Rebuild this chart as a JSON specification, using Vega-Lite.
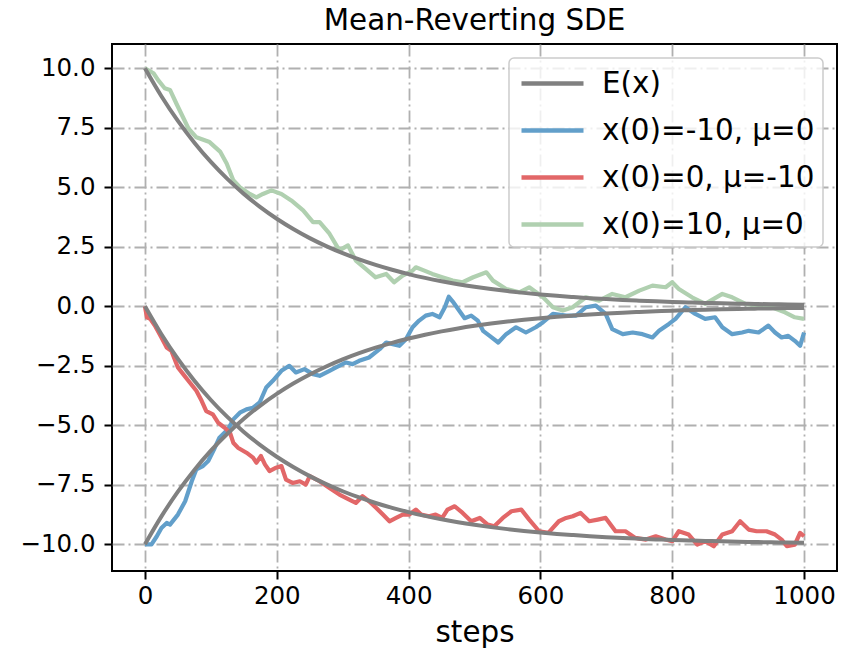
{
  "$schema": "https://vega.github.io/schema/vega-lite/v6.json",
  "width": 725,
  "height": 527,
  "autosize": {"type": "none"},
  "padding": {"left": 112, "top": 44, "right": 14, "bottom": 78},
  "background": "white",
  "config": {
    "font": "DejaVu Sans",
    "view": {"stroke": "black", "strokeWidth": 2},
    "axis": {
      "labelFontSize": 24.5,
      "labelColor": "black",
      "labelFont": "DejaVu Sans",
      "tickSize": 8,
      "tickWidth": 2,
      "tickColor": "black",
      "domain": false,
      "grid": true,
      "gridDash": [12, 4, 2, 4],
      "gridColor": "#b0b0b0",
      "gridWidth": 1.8,
      "labelFlush": false,
      "labelOverlap": false,
      "titleFontSize": 29.4,
      "titleFontWeight": "normal",
      "titleColor": "black",
      "titleFont": "DejaVu Sans"
    },
    "legend": {
      "orient": "top-right",
      "offset": 14,
      "padding": 8,
      "fillColor": "rgba(255,255,255,0.8)",
      "strokeColor": "#cccccc",
      "strokeWidth": 1.5,
      "cornerRadius": 5,
      "labelFontSize": 29.4,
      "labelFont": "DejaVu Sans",
      "labelColor": "black",
      "symbolType": "M-0.867,0H3.267",
      "symbolSize": 900,
      "symbolStrokeWidth": 4.5,
      "labelOffset": 50,
      "rowPadding": 15,
      "labelLimit": 400
    }
  },
  "title": {
    "text": "Mean-Reverting SDE",
    "fontSize": 29.4,
    "fontWeight": "normal",
    "font": "DejaVu Sans",
    "color": "black",
    "anchor": "middle",
    "frame": "group",
    "baseline": "top",
    "offset": 8
  },
  "datasets": {
    "expect": [
      {"t": 0, "up": 10, "lo": -10, "rd": 0},
      {"t": 25, "up": 8.825, "lo": -8.825, "rd": -1.175},
      {"t": 50, "up": 7.788, "lo": -7.788, "rd": -2.212},
      {"t": 75, "up": 6.873, "lo": -6.873, "rd": -3.127},
      {"t": 100, "up": 6.065, "lo": -6.065, "rd": -3.935},
      {"t": 125, "up": 5.353, "lo": -5.353, "rd": -4.647},
      {"t": 150, "up": 4.724, "lo": -4.724, "rd": -5.276},
      {"t": 175, "up": 4.169, "lo": -4.169, "rd": -5.831},
      {"t": 200, "up": 3.679, "lo": -3.679, "rd": -6.321},
      {"t": 225, "up": 3.247, "lo": -3.247, "rd": -6.753},
      {"t": 250, "up": 2.865, "lo": -2.865, "rd": -7.135},
      {"t": 275, "up": 2.528, "lo": -2.528, "rd": -7.472},
      {"t": 300, "up": 2.231, "lo": -2.231, "rd": -7.769},
      {"t": 325, "up": 1.969, "lo": -1.969, "rd": -8.031},
      {"t": 350, "up": 1.738, "lo": -1.738, "rd": -8.262},
      {"t": 375, "up": 1.534, "lo": -1.534, "rd": -8.466},
      {"t": 400, "up": 1.353, "lo": -1.353, "rd": -8.647},
      {"t": 425, "up": 1.194, "lo": -1.194, "rd": -8.806},
      {"t": 450, "up": 1.054, "lo": -1.054, "rd": -8.946},
      {"t": 475, "up": 0.93, "lo": -0.93, "rd": -9.07},
      {"t": 500, "up": 0.821, "lo": -0.821, "rd": -9.179},
      {"t": 525, "up": 0.724, "lo": -0.724, "rd": -9.276},
      {"t": 550, "up": 0.639, "lo": -0.639, "rd": -9.361},
      {"t": 575, "up": 0.564, "lo": -0.564, "rd": -9.436},
      {"t": 600, "up": 0.498, "lo": -0.498, "rd": -9.502},
      {"t": 625, "up": 0.439, "lo": -0.439, "rd": -9.561},
      {"t": 650, "up": 0.388, "lo": -0.388, "rd": -9.612},
      {"t": 675, "up": 0.342, "lo": -0.342, "rd": -9.658},
      {"t": 700, "up": 0.302, "lo": -0.302, "rd": -9.698},
      {"t": 725, "up": 0.266, "lo": -0.266, "rd": -9.734},
      {"t": 750, "up": 0.235, "lo": -0.235, "rd": -9.765},
      {"t": 775, "up": 0.208, "lo": -0.208, "rd": -9.792},
      {"t": 800, "up": 0.183, "lo": -0.183, "rd": -9.817},
      {"t": 825, "up": 0.162, "lo": -0.162, "rd": -9.838},
      {"t": 850, "up": 0.143, "lo": -0.143, "rd": -9.857},
      {"t": 875, "up": 0.126, "lo": -0.126, "rd": -9.874},
      {"t": 900, "up": 0.111, "lo": -0.111, "rd": -9.889},
      {"t": 925, "up": 0.098, "lo": -0.098, "rd": -9.902},
      {"t": 950, "up": 0.087, "lo": -0.087, "rd": -9.913},
      {"t": 975, "up": 0.076, "lo": -0.076, "rd": -9.924},
      {"t": 1000, "up": 0.067, "lo": -0.067, "rd": -9.933}
    ],
    "paths": [
      {"s": "b", "t": 0, "v": -10}, {"s": "b", "t": 10, "v": -10.0}, {"s": "b", "t": 18, "v": -9.66}, {"s": "b", "t": 25, "v": -9.31},
      {"s": "b", "t": 33, "v": -9.1}, {"s": "b", "t": 38, "v": -9.17}, {"s": "b", "t": 50, "v": -8.75}, {"s": "b", "t": 61, "v": -8.19},
      {"s": "b", "t": 71, "v": -7.35}, {"s": "b", "t": 78, "v": -6.85}, {"s": "b", "t": 88, "v": -6.71}, {"s": "b", "t": 96, "v": -6.5},
      {"s": "b", "t": 106, "v": -5.94}, {"s": "b", "t": 113, "v": -5.52}, {"s": "b", "t": 126, "v": -5.17}, {"s": "b", "t": 134, "v": -4.75},
      {"s": "b", "t": 144, "v": -4.47}, {"s": "b", "t": 154, "v": -4.33}, {"s": "b", "t": 164, "v": -4.26}, {"s": "b", "t": 174, "v": -4.04},
      {"s": "b", "t": 184, "v": -3.41}, {"s": "b", "t": 194, "v": -3.13}, {"s": "b", "t": 207, "v": -2.71}, {"s": "b", "t": 219, "v": -2.5},
      {"s": "b", "t": 229, "v": -2.78}, {"s": "b", "t": 242, "v": -2.64}, {"s": "b", "t": 255, "v": -2.85}, {"s": "b", "t": 265, "v": -2.92},
      {"s": "b", "t": 280, "v": -2.71}, {"s": "b", "t": 290, "v": -2.57}, {"s": "b", "t": 305, "v": -2.36}, {"s": "b", "t": 315, "v": -2.43},
      {"s": "b", "t": 325, "v": -2.29}, {"s": "b", "t": 340, "v": -2.15}, {"s": "b", "t": 356, "v": -1.8}, {"s": "b", "t": 366, "v": -1.52},
      {"s": "b", "t": 376, "v": -1.59}, {"s": "b", "t": 386, "v": -1.66}, {"s": "b", "t": 396, "v": -1.38}, {"s": "b", "t": 406, "v": -0.88},
      {"s": "b", "t": 416, "v": -0.6}, {"s": "b", "t": 426, "v": -0.39}, {"s": "b", "t": 436, "v": -0.32}, {"s": "b", "t": 447, "v": -0.46},
      {"s": "b", "t": 455, "v": -0.04}, {"s": "b", "t": 461, "v": 0.4}, {"s": "b", "t": 467, "v": 0.2}, {"s": "b", "t": 475, "v": -0.11},
      {"s": "b", "t": 485, "v": -0.5}, {"s": "b", "t": 495, "v": -0.39}, {"s": "b", "t": 505, "v": -0.6}, {"s": "b", "t": 513, "v": -1.03},
      {"s": "b", "t": 523, "v": -1.24}, {"s": "b", "t": 536, "v": -1.52}, {"s": "b", "t": 548, "v": -1.17}, {"s": "b", "t": 563, "v": -0.88},
      {"s": "b", "t": 578, "v": -1.1}, {"s": "b", "t": 593, "v": -0.88}, {"s": "b", "t": 604, "v": -0.67}, {"s": "b", "t": 619, "v": -0.32},
      {"s": "b", "t": 639, "v": -0.39}, {"s": "b", "t": 654, "v": -0.39}, {"s": "b", "t": 669, "v": -0.04}, {"s": "b", "t": 684, "v": 0.03},
      {"s": "b", "t": 699, "v": -0.32}, {"s": "b", "t": 709, "v": -0.96}, {"s": "b", "t": 725, "v": -1.17}, {"s": "b", "t": 740, "v": -1.1},
      {"s": "b", "t": 755, "v": -1.17}, {"s": "b", "t": 770, "v": -1.31}, {"s": "b", "t": 780, "v": -1.03}, {"s": "b", "t": 795, "v": -0.74},
      {"s": "b", "t": 805, "v": -0.53}, {"s": "b", "t": 820, "v": -0.04}, {"s": "b", "t": 835, "v": -0.32}, {"s": "b", "t": 850, "v": -0.53},
      {"s": "b", "t": 865, "v": -0.46}, {"s": "b", "t": 876, "v": -0.88}, {"s": "b", "t": 891, "v": -1.17}, {"s": "b", "t": 906, "v": -1.1},
      {"s": "b", "t": 916, "v": -1.03}, {"s": "b", "t": 931, "v": -1.1}, {"s": "b", "t": 946, "v": -0.81}, {"s": "b", "t": 956, "v": -1.1},
      {"s": "b", "t": 966, "v": -1.31}, {"s": "b", "t": 976, "v": -1.24}, {"s": "b", "t": 986, "v": -1.45}, {"s": "b", "t": 994, "v": -1.66},
      {"s": "b", "t": 1000, "v": -1.1},
      {"s": "r", "t": 0, "v": 0}, {"s": "r", "t": 3, "v": -0.46}, {"s": "r", "t": 8, "v": -0.53}, {"s": "r", "t": 15, "v": -0.81},
      {"s": "r", "t": 25, "v": -1.31}, {"s": "r", "t": 33, "v": -1.73}, {"s": "r", "t": 40, "v": -1.87}, {"s": "r", "t": 50, "v": -2.57},
      {"s": "r", "t": 58, "v": -2.85}, {"s": "r", "t": 68, "v": -3.2}, {"s": "r", "t": 78, "v": -3.55}, {"s": "r", "t": 86, "v": -3.97},
      {"s": "r", "t": 93, "v": -4.4}, {"s": "r", "t": 103, "v": -4.54}, {"s": "r", "t": 111, "v": -4.89}, {"s": "r", "t": 121, "v": -5.1},
      {"s": "r", "t": 129, "v": -5.31}, {"s": "r", "t": 134, "v": -5.73}, {"s": "r", "t": 141, "v": -5.94}, {"s": "r", "t": 154, "v": -6.15},
      {"s": "r", "t": 164, "v": -6.36}, {"s": "r", "t": 169, "v": -6.57}, {"s": "r", "t": 176, "v": -6.29}, {"s": "r", "t": 182, "v": -6.64},
      {"s": "r", "t": 189, "v": -6.92}, {"s": "r", "t": 199, "v": -6.78}, {"s": "r", "t": 207, "v": -6.71}, {"s": "r", "t": 214, "v": -7.28},
      {"s": "r", "t": 224, "v": -7.42}, {"s": "r", "t": 235, "v": -7.35}, {"s": "r", "t": 244, "v": -7.49}, {"s": "r", "t": 250, "v": -7.13},
      {"s": "r", "t": 265, "v": -7.35}, {"s": "r", "t": 280, "v": -7.63}, {"s": "r", "t": 295, "v": -7.91}, {"s": "r", "t": 310, "v": -8.12},
      {"s": "r", "t": 320, "v": -8.26}, {"s": "r", "t": 330, "v": -7.98}, {"s": "r", "t": 340, "v": -8.19}, {"s": "r", "t": 351, "v": -8.47},
      {"s": "r", "t": 361, "v": -8.75}, {"s": "r", "t": 371, "v": -9.03}, {"s": "r", "t": 381, "v": -8.89}, {"s": "r", "t": 391, "v": -8.75},
      {"s": "r", "t": 401, "v": -8.75}, {"s": "r", "t": 411, "v": -8.54}, {"s": "r", "t": 419, "v": -8.75}, {"s": "r", "t": 431, "v": -8.82},
      {"s": "r", "t": 441, "v": -8.75}, {"s": "r", "t": 451, "v": -8.89}, {"s": "r", "t": 459, "v": -8.54}, {"s": "r", "t": 470, "v": -8.4},
      {"s": "r", "t": 482, "v": -8.68}, {"s": "r", "t": 495, "v": -9.03}, {"s": "r", "t": 508, "v": -8.89}, {"s": "r", "t": 520, "v": -9.17},
      {"s": "r", "t": 530, "v": -9.24}, {"s": "r", "t": 543, "v": -8.89}, {"s": "r", "t": 556, "v": -8.61}, {"s": "r", "t": 571, "v": -8.54},
      {"s": "r", "t": 583, "v": -8.96}, {"s": "r", "t": 598, "v": -9.45}, {"s": "r", "t": 612, "v": -9.52}, {"s": "r", "t": 628, "v": -9.03},
      {"s": "r", "t": 639, "v": -8.89}, {"s": "r", "t": 649, "v": -8.82}, {"s": "r", "t": 661, "v": -8.68}, {"s": "r", "t": 674, "v": -9.03},
      {"s": "r", "t": 687, "v": -8.96}, {"s": "r", "t": 699, "v": -8.89}, {"s": "r", "t": 714, "v": -9.45}, {"s": "r", "t": 729, "v": -9.45},
      {"s": "r", "t": 744, "v": -9.73}, {"s": "r", "t": 760, "v": -9.8}, {"s": "r", "t": 775, "v": -9.66}, {"s": "r", "t": 790, "v": -9.8},
      {"s": "r", "t": 800, "v": -9.87}, {"s": "r", "t": 810, "v": -9.45}, {"s": "r", "t": 825, "v": -9.59}, {"s": "r", "t": 838, "v": -10.01},
      {"s": "r", "t": 850, "v": -9.87}, {"s": "r", "t": 863, "v": -10.08}, {"s": "r", "t": 876, "v": -9.59}, {"s": "r", "t": 891, "v": -9.45},
      {"s": "r", "t": 903, "v": -9.03}, {"s": "r", "t": 916, "v": -9.38}, {"s": "r", "t": 928, "v": -9.45}, {"s": "r", "t": 943, "v": -9.45},
      {"s": "r", "t": 956, "v": -9.59}, {"s": "r", "t": 966, "v": -9.8}, {"s": "r", "t": 974, "v": -10.08}, {"s": "r", "t": 986, "v": -10.01},
      {"s": "r", "t": 994, "v": -9.52}, {"s": "r", "t": 1000, "v": -9.66},
      {"s": "g", "t": 0, "v": 10}, {"s": "g", "t": 13, "v": 9.79}, {"s": "g", "t": 20, "v": 9.5}, {"s": "g", "t": 30, "v": 9.16},
      {"s": "g", "t": 38, "v": 9.09}, {"s": "g", "t": 48, "v": 8.5}, {"s": "g", "t": 66, "v": 7.47}, {"s": "g", "t": 78, "v": 7.1},
      {"s": "g", "t": 98, "v": 6.9}, {"s": "g", "t": 114, "v": 6.5}, {"s": "g", "t": 124, "v": 6.0}, {"s": "g", "t": 134, "v": 5.3},
      {"s": "g", "t": 144, "v": 5.0}, {"s": "g", "t": 159, "v": 4.72}, {"s": "g", "t": 169, "v": 4.58}, {"s": "g", "t": 179, "v": 4.72},
      {"s": "g", "t": 192, "v": 4.87}, {"s": "g", "t": 207, "v": 4.72}, {"s": "g", "t": 222, "v": 4.45}, {"s": "g", "t": 240, "v": 4.03},
      {"s": "g", "t": 255, "v": 3.54}, {"s": "g", "t": 265, "v": 3.54}, {"s": "g", "t": 280, "v": 3.05}, {"s": "g", "t": 295, "v": 2.35},
      {"s": "g", "t": 308, "v": 2.56}, {"s": "g", "t": 320, "v": 1.92}, {"s": "g", "t": 335, "v": 1.57}, {"s": "g", "t": 350, "v": 1.22},
      {"s": "g", "t": 366, "v": 1.36}, {"s": "g", "t": 378, "v": 1.01}, {"s": "g", "t": 391, "v": 1.29}, {"s": "g", "t": 406, "v": 1.5},
      {"s": "g", "t": 411, "v": 1.64}, {"s": "g", "t": 424, "v": 1.5}, {"s": "g", "t": 436, "v": 1.36}, {"s": "g", "t": 451, "v": 1.22},
      {"s": "g", "t": 467, "v": 1.08}, {"s": "g", "t": 482, "v": 1.01}, {"s": "g", "t": 498, "v": 1.22}, {"s": "g", "t": 518, "v": 1.43},
      {"s": "g", "t": 528, "v": 1.08}, {"s": "g", "t": 548, "v": 0.73}, {"s": "g", "t": 568, "v": 0.59}, {"s": "g", "t": 583, "v": 0.8},
      {"s": "g", "t": 604, "v": 0.38}, {"s": "g", "t": 619, "v": -0.04}, {"s": "g", "t": 634, "v": -0.18}, {"s": "g", "t": 649, "v": -0.04},
      {"s": "g", "t": 669, "v": 0.38}, {"s": "g", "t": 689, "v": 0.24}, {"s": "g", "t": 709, "v": 0.52}, {"s": "g", "t": 729, "v": 0.38},
      {"s": "g", "t": 750, "v": 0.66}, {"s": "g", "t": 770, "v": 0.87}, {"s": "g", "t": 790, "v": 0.8}, {"s": "g", "t": 800, "v": 1.01},
      {"s": "g", "t": 810, "v": 0.73}, {"s": "g", "t": 830, "v": 0.38}, {"s": "g", "t": 850, "v": 0.1}, {"s": "g", "t": 876, "v": 0.52},
      {"s": "g", "t": 891, "v": 0.38}, {"s": "g", "t": 911, "v": 0.1}, {"s": "g", "t": 931, "v": 0.03}, {"s": "g", "t": 951, "v": -0.04},
      {"s": "g", "t": 971, "v": -0.25}, {"s": "g", "t": 986, "v": -0.46}, {"s": "g", "t": 1000, "v": -0.53}
    ]
  },
  "encoding": {
    "x": {
      "field": "t",
      "type": "quantitative",
      "scale": {"domain": [-50, 1050], "nice": false, "zero": false},
      "axis": {"values": [0, 200, 400, 600, 800, 1000], "title": "steps", "labelPadding": 5, "titlePadding": 11, "format": "d"}
    },
    "y": {
      "field": "v",
      "type": "quantitative",
      "scale": {"domain": [-11.12, 11.02], "nice": false, "zero": false},
      "axis": {"values": [-10, -7.5, -5, -2.5, 0, 2.5, 5, 7.5, 10], "format": ".1f", "title": null, "labelPadding": 9}
    }
  },
  "layer": [
    {
      "data": {"name": "paths"},
      "mark": {"type": "line", "strokeWidth": 4.2, "strokeJoin": "round"},
      "encoding": {
        "color": {
          "field": "s",
          "type": "nominal",
          "scale": {"domain": ["E", "b", "r", "g"], "range": ["#808080", "#629fca", "#e26768", "#b0d0b0"]},
          "legend": {"title": null, "labelExpr": "datum.label == 'E' ? 'E(x)' : datum.label == 'b' ? 'x(0)=-10, μ=0' : datum.label == 'r' ? 'x(0)=0, μ=-10' : 'x(0)=10, μ=0'"}
        }
      }
    },
    {
      "data": {"name": "expect"},
      "transform": [{"fold": ["up", "lo", "rd"], "as": ["k", "v"]}],
      "mark": {"type": "line", "strokeWidth": 4, "interpolate": "monotone"},
      "encoding": {
        "color": {"datum": "E", "type": "nominal"},
        "detail": {"field": "k", "type": "nominal"}
      }
    }
  ]
}
